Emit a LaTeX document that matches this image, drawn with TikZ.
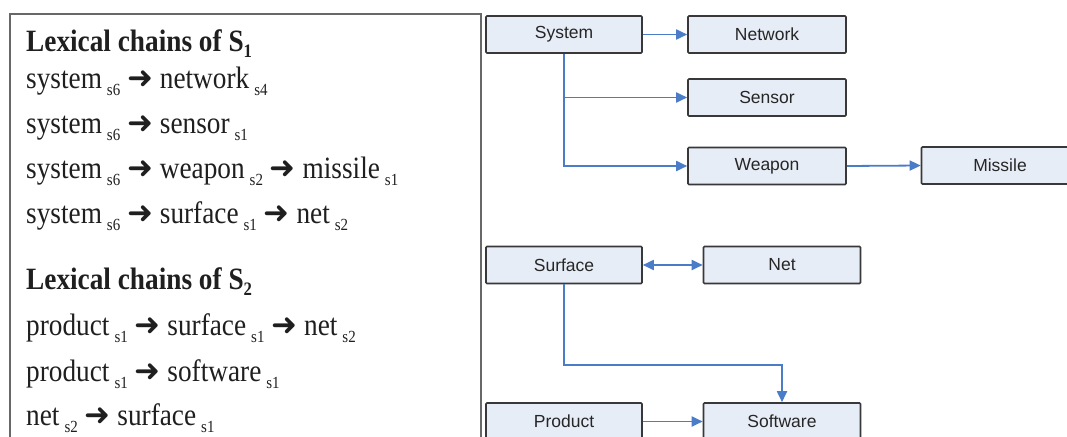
\documentclass[tikz,border=0pt]{standalone}
\usepackage{fontspec}
\setmainfont{Liberation Serif}
\newfontfamily\chainfont[FakeStretch=0.88]{Liberation Serif}
\newfontfamily\arrowfont{DejaVu Sans}
\newfontfamily\boxfont{Liberation Sans}
\usetikzlibrary{arrows.meta}
\definecolor{boxfill}{HTML}{E7EDF7}
\definecolor{boxline}{HTML}{383838}
\definecolor{boxtext}{HTML}{262626}
\definecolor{linkblue}{HTML}{4A7CC8}
\definecolor{framegray}{HTML}{686868}
\newcommand\subx[1]{\kern5pt\raisebox{-7pt}{\fontsize{17}{17}\selectfont #1}}
\newcommand\subb[1]{\raisebox{-6pt}{\fontsize{19}{19}\selectfont #1}}
\newcommand\arr{{\arrowfont\fontsize{31}{31}\selectfont ➜}}
\begin{document}
\begin{tikzpicture}[x=1pt,y=-1pt,
  box/.style={draw=boxline, fill=boxfill, line width=1.6pt, rounded corners=1pt,
    minimum width=156pt, minimum height=37pt, inner sep=0pt,
    font=\boxfont\fontsize{17.5}{17.5}\selectfont, text=boxtext},
  link/.style={draw=linkblue, line width=1.8pt, -{Triangle[length=11pt,width=10pt]}},
  both/.style={draw=linkblue, line width=1.8pt, {Triangle[length=11pt,width=10pt]}-{Triangle[length=11pt,width=10pt]}},
  chain/.style={anchor=base west, inner sep=0pt, font=\chainfont\fontsize{31}{31}\selectfont, text=black!88}]
\useasboundingbox (0,0) rectangle (1067,436);
\clip (0,0) rectangle (1067,436);
% left frame
\draw[framegray, line width=1.8pt] (10,470) -- (10,14) -- (481,14) -- (481,470);
% chains
\node[chain] (c1) at (26,52) {\bfseries Lexical chains of S\subb{1}};
\node[chain] (c2) at (26,88) {system\subx{s6} \arr{} network\subx{s4}};
\node[chain] (c3) at (26,133) {system\subx{s6} \arr{} sensor\subx{s1}};
\node[chain] (c4) at (26,178) {system\subx{s6} \arr{} weapon\subx{s2} \arr{} missile\subx{s1}};
\node[chain] (c5) at (26,223) {system\subx{s6} \arr{} surface\subx{s1} \arr{} net\subx{s2}};
\node[chain] (c6) at (26,289) {\bfseries Lexical chains of S\subb{2}};
\node[chain] (c7) at (26,335) {product\subx{s1} \arr{} surface\subx{s1} \arr{} net\subx{s2}};
\node[chain] (c8) at (26,381) {product\subx{s1} \arr{} software\subx{s1}};
\node[chain] (c9) at (26,425) {net\subx{s2} \arr{} surface\subx{s1}};
% boxes
\node[box] (system) at (564,34.5) {System};
\node[box, minimum width=158pt] (network) at (767,34.5) {Network};
\node[box, minimum width=158pt] (sensor) at (767,97.5) {Sensor};
\node[box, minimum width=158pt] (weapon) at (767,166) {Weapon};
\node[box, minimum width=157pt] (missile) at (1000,165.5) {Missile};
\node[box] (surface) at (564,265) {Surface};
\node[box, minimum width=157pt] (net) at (782,265) {Net};
\node[box] (product) at (564,421.5) {Product};
\node[box, minimum width=157pt] (software) at (782,421.5) {Software};
\coordinate (bend) at (782,365);
% connectors
\draw[link] (system.east) -- (network.west);
\draw[link] (system.south) |- (sensor.west);
\draw[link] (system.south) |- (weapon.west);
\draw[link] (weapon.east) -- (missile.west);
\draw[both] (surface.east) -- (net.west);
\draw[link] (surface.south) |- (bend) -- (software.north);
\draw[link] (product.east) -- (software.west);
\end{tikzpicture}
\end{document}
